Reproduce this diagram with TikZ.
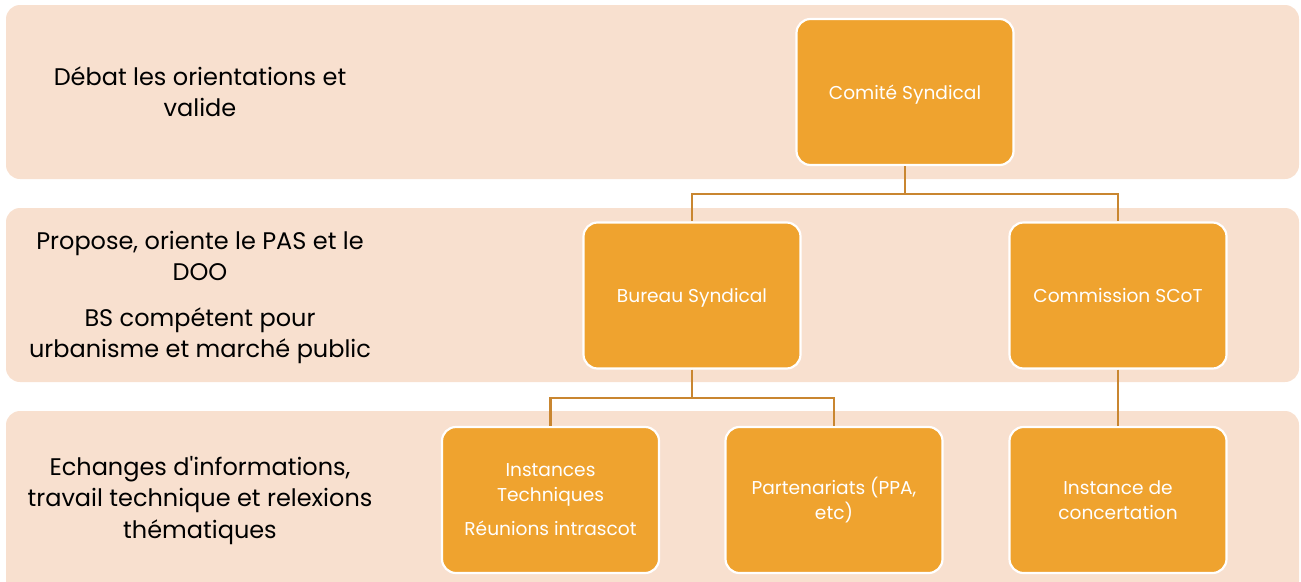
\documentclass[tikz,border=0pt]{standalone}
\usepackage{fontspec}
\setmainfont{Poppins}
\definecolor{band}{HTML}{F8E0CF}
\definecolor{org}{HTML}{EFA32F}
\definecolor{conn}{HTML}{C98630}
\tikzset{
  bandbox/.style={fill=band, draw=none, rounded corners=14pt},
  orgbox/.style={fill=org, draw=white, line width=2.2pt, rounded corners=14pt, minimum width=217pt, minimum height=146pt, text=white, align=center, font=\fontsize{18.6}{25}\selectfont, inner sep=4pt},
  onelinebox/.style={orgbox, text depth=0pt},
  lefttext/.style={align=center, font=\fontsize{24}{31.5}\selectfont, text=black},
  link/.style={draw=conn, line width=2.4pt}
}
\begin{document}
\begin{tikzpicture}[x=1pt,y=-1pt]
\useasboundingbox (0,0) rectangle (1301,581);
% bands
\path[bandbox] (6,5) rectangle (1299,179);
\path[bandbox] (6,208) rectangle (1299,382);
\path[bandbox] (6,411) rectangle (1299,595);
% left texts
\node[lefttext] (t1) at (200,91.5) {Débat les orientations et\\valide};
\node[lefttext] (t2) at (200,297.5) {Propose, oriente le PAS et le\\DOO\\[14pt]BS compétent pour\\urbanisme et marché public};
\node[lefttext] (t3) at (200,500.5) {Echanges d\textquotesingle informations,\\travail technique et relexions\\thématiques};
% boxes
\node[onelinebox] (cs) at (905,92) {Comité Syndical};
\node[onelinebox] (bs) at (692,295.5) {Bureau Syndical};
\node[onelinebox] (sc) at (1118,295.5) {Commission SCoT};
\node[orgbox] (it) at (550.5,500) {Instances\\Techniques\\[9pt]Réunions intrascot};
\node[orgbox] (pa) at (834,500) {Partenariats (PPA,\\etc)};
\node[orgbox] (ic) at (1118,500) {Instance de\\concertation};
% connectors
\coordinate (j1) at (905,194);
\coordinate (j2) at (692,398);
\draw[link] (cs.south) -- (j1);
\draw[link] (j1) -| (bs.north);
\draw[link] (j1) -| (sc.north);
\draw[link] (bs.south) -- (j2);
\draw[link] (j2) -| (it.north);
\draw[link] (j2) -| (pa.north);
\draw[link] (sc.south) -- (ic.north);
\end{tikzpicture}
\end{document}
